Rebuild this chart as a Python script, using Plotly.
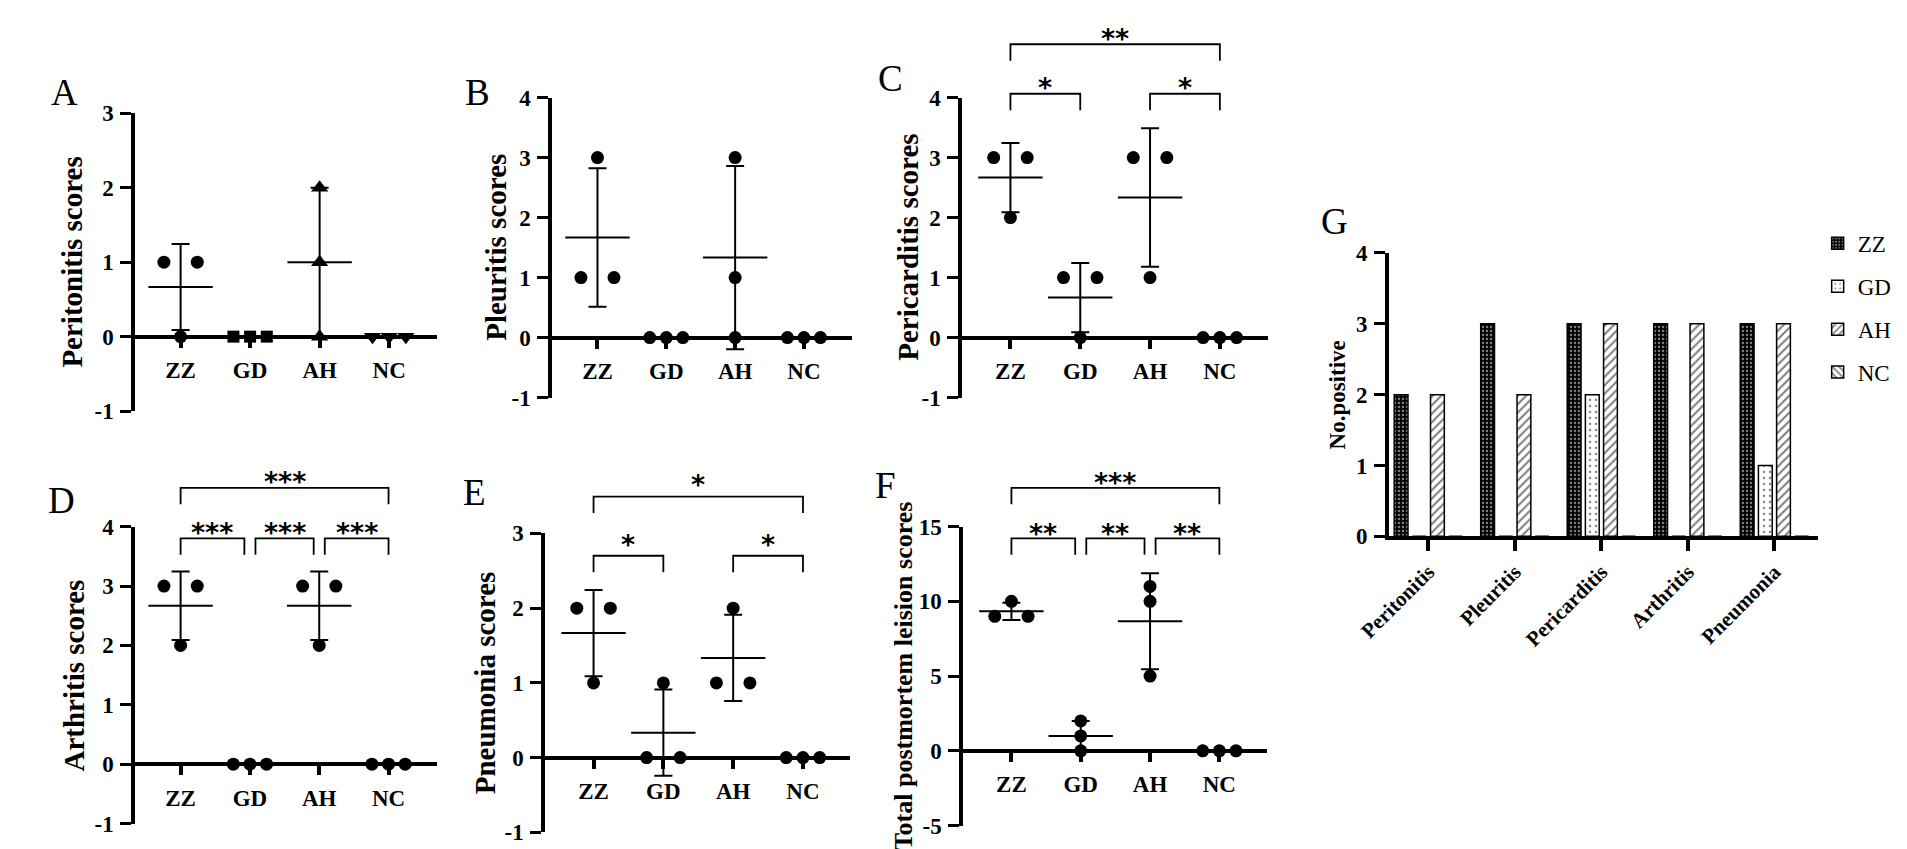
import numpy as np
import plotly.graph_objects as go

# group names and per-animal scores (3 birds per group)
groups = ["ZZ", "GD", "AH", "NC"]
peritonitis_scores = [[1, 1, 0], [0, 0, 0], [2, 1, 0], [0, 0, 0]]
pleuritis_scores = [[3, 1, 1], [0, 0, 0], [3, 1, 0], [0, 0, 0]]
pericarditis_scores = [[3, 3, 2], [1, 1, 0], [3, 3, 1], [0, 0, 0]]
arthritis_scores = [[3, 3, 2], [0, 0, 0], [3, 3, 2], [0, 0, 0]]
pneumonia_scores = [[2, 2, 1], [1, 0, 0], [2, 1, 1], [0, 0, 0]]
total_scores = [[10, 9, 9], [2, 1, 0], [11, 10, 5], [0, 0, 0]]

# significance comparisons (group i, group j, label)
pericarditis_sig = [(0, 1, "*"), (2, 3, "*"), (0, 3, "**")]
arthritis_sig = [(0, 1, "***"), (1, 2, "***"), (2, 3, "***"), (0, 3, "***")]
pneumonia_sig = [(0, 1, "*"), (2, 3, "*"), (0, 3, "*")]
total_sig = [(0, 1, "**"), (1, 2, "**"), (2, 3, "**"), (0, 3, "***")]

# panel G: number of positive birds
lesions = ["Peritonitis", "Pleuritis", "Pericarditis", "Arthritis", "Pneumonia"]
positive_zz = [2, 3, 3, 3, 3]
positive_gd = [0, 0, 2, 0, 1]
positive_ah = [2, 2, 3, 3, 3]
positive_nc = [0, 0, 0, 0, 0]

W, H = 1907, 849
SERIF = "Liberation Serif"


def fx(px):
    return px / W


def fy(py):
    return 1 - py / H


# layout of the scatter panels in pixels:
# (y-axis x, x-axis end, first category x, category step, px of ymin, px of ymax)
panels = [
    dict(letter="A", title="Peritonitis scores", data=peritonitis_scores, sig=[], yr=(-1, 3), dtick=1,
         box=(97, 404, 143, 70.7, 403, 96), lpos=(25, 75), tx=33, tsize=29, levels=None,
         symbols=["circle", "square", "triangle-up", "triangle-down"]),
    dict(letter="B", title="Pleuritis scores", data=pleuritis_scores, sig=[], yr=(-1, 4), dtick=1,
         box=(521, 826, 567, 70.0, 389, 80), lpos=(445, 75), tx=463, tsize=29, levels=None),
    dict(letter="C", title="Pericarditis scores", data=pericarditis_scores, sig=pericarditis_sig, yr=(-1, 4), dtick=1,
         box=(938, 1249, 987, 71.0, 389, 80), lpos=(865, 60), tx=882, tsize=29, levels=(76, 25), star_up=11),
    dict(letter="D", title="Arthritis scores", data=arthritis_scores, sig=arthritis_sig, yr=(-1, 4), dtick=1,
         box=(97, 404, 143, 70.5, 828, 522), lpos=(22, 495), tx=35, tsize=29, levels=(534, 482), star_up=11),
    dict(letter="E", title="Pneumonia scores", data=pneumonia_scores, sig=pneumonia_sig, yr=(-1, 3), dtick=1,
         box=(514, 824, 563, 71.0, 837, 529), lpos=(442, 487), tx=452, tsize=29, levels=(552, 491), star_up=17),
    dict(letter="F", title="Total postmortem leision scores", data=total_scores, sig=total_sig, yr=(-5, 15), dtick=5,
         box=(939, 1248, 988, 70.5, 830, 522), lpos=(860, 480), tx=878, tsize=26, levels=(534, 482), star_up=10),
]
marker_sizes = {"circle": 13, "square": 12, "triangle-up": 15, "triangle-down": 15}

fig = go.Figure()
shapes = []
annotations = []
tick_font = dict(family=SERIF, size=23, color="black", weight="bold")
jit = 0.24  # horizontal spread of tied points


def label(text, px, py, size, bold=False, angle=0):
    annotations.append(dict(text=text, x=fx(px), y=fy(py), xref="paper", yref="paper",
                            xanchor="center", yanchor="middle", showarrow=False, textangle=angle,
                            font=dict(family=SERIF, size=size, color="black",
                                      weight="bold" if bold else "normal")))


for k, p in enumerate(panels):
    n = k + 1
    xa = "x" if n == 1 else f"x{n}"
    ya = "y" if n == 1 else f"y{n}"
    ax_x, ax_end, c0, step, py_min, py_max = p["box"]
    ymin, ymax = p["yr"]
    xr = [(ax_x - c0) / step, (ax_end - c0) / step]
    py0 = py_min + (0 - ymin) / (ymax - ymin) * (py_max - py_min)
    symbols = p.get("symbols", ["circle"] * 4)

    for gi, vals in enumerate(p["data"]):
        vals = np.array(vals, dtype=float)
        xs = np.zeros(len(vals))
        for v in np.unique(vals):
            idx = np.where(vals == v)[0]
            offs = np.linspace(-jit, jit, len(idx)) if len(idx) > 1 else [0.0]
            xs[idx] = gi + np.array(offs)
        fig.add_trace(go.Scatter(
            x=xs, y=vals, mode="markers", xaxis=xa, yaxis=ya, showlegend=False,
            marker=dict(symbol=symbols[gi], size=marker_sizes[symbols[gi]], color="black"), cliponaxis=False))
        mean = vals.mean()
        sd = vals.std(ddof=1)
        fig.add_trace(go.Scatter(
            x=[gi], y=[mean], mode="markers", xaxis=xa, yaxis=ya, showlegend=False,
            marker=dict(symbol="line-ew-open", size=46, color="black", line=dict(color="black", width=2)),
            error_y=dict(type="data", array=[sd], color="black", thickness=2, width=9),
            cliponaxis=False))

    fig.layout[f"xaxis{'' if n == 1 else n}"] = dict(
        domain=[fx(ax_x), fx(ax_end)], range=xr, anchor="free", position=fy(py0),
        showline=True, linewidth=4, linecolor="black", showgrid=False, zeroline=False,
        tickvals=list(range(4)), ticktext=groups, ticks="outside", ticklen=9, tickwidth=3.5,
        tickcolor="black", tickfont=tick_font, ticklabelstandoff=3, fixedrange=True)
    tv = list(range(ymin, ymax + 1, p["dtick"]))
    fig.layout[f"yaxis{'' if n == 1 else n}"] = dict(
        domain=[fy(py_min), fy(py_max)], range=[ymin, ymax], anchor=xa,
        showline=True, linewidth=4, linecolor="black", showgrid=False, zeroline=False,
        tickvals=tv, ticktext=[str(v) for v in tv], ticks="outside", ticklen=11, tickwidth=3,
        tickcolor="black", tickfont=tick_font, ticklabelstandoff=2, fixedrange=True)

    label(p["letter"], p["lpos"][0], p["lpos"][1], 37)
    label(p["title"], p["tx"], (py_min + py_max) / 2, p["tsize"], bold=True, angle=-90)

    # significance brackets
    if p["levels"]:
        low, high = p["levels"]
        ends = [(i, j) for i, j, _ in p["sig"] if j - i < 3]
        for i, j, lab in p["sig"]:
            top = j - i == 3
            line_y = high if top else low
            a, b = float(i), float(j)
            if not top:
                if any(e[1] == i for e in ends):
                    a += 0.08
                if any(e[0] == j for e in ends):
                    b -= 0.08
            shapes.append(dict(type="path", xref=xa, yref="paper",
                               path=f"M{a},{fy(line_y + 17)} L{a},{fy(line_y)} L{b},{fy(line_y)} L{b},{fy(line_y + 17)}",
                               line=dict(color="black", width=1.8)))
            annotations.append(dict(text=lab, x=(a + b) / 2, y=fy(line_y - p["star_up"] + 5), xref=xa, yref="paper",
                                    showarrow=False, xanchor="center", yanchor="middle",
                                    font=dict(family="DejaVu Sans", size=27, color="black", weight="bold")))

# panel G bars
bar_specs = [
    ("ZZ", positive_zz, "black", dict(shape=".", fgcolor="white", bgcolor="black", size=4, solidity=0.3, fillmode="overlay")),
    ("GD", positive_gd, "white", dict(shape=".", fgcolor="black", bgcolor="white", size=6, solidity=0.12, fillmode="overlay")),
    ("AH", positive_ah, "white", dict(shape="/", fgcolor="black", bgcolor="white", size=6, solidity=0.35, fillmode="overlay")),
    ("NC", positive_nc, "white", dict(shape="\\", fgcolor="black", bgcolor="white", size=6, solidity=0.35, fillmode="overlay")),
]
for name, vals, col, pat in bar_specs:
    fig.add_trace(go.Bar(x=lesions, y=vals, name=name, legendgroup=name, xaxis="x7", yaxis="y7",
                         marker=dict(color=col, pattern=pat, line=dict(color="black", width=1.5))))

fig.update_layout(
    xaxis7=dict(domain=[fx(1372), fx(1808)], range=[-0.455, 4.5], anchor="y7",
                showline=True, linewidth=4, linecolor="black", showgrid=False,
                ticks="outside", ticklen=11, tickwidth=3.5, tickcolor="black", tickangle=-45,
                tickfont=dict(family=SERIF, size=21, color="black", weight="bold"), fixedrange=True),
    yaxis7=dict(domain=[fy(532), fy(240)], range=[0, 4], anchor="x7", dtick=1,
                showline=True, linewidth=4, linecolor="black", showgrid=False, zeroline=False,
                ticks="outside", ticklen=11, tickwidth=3, tickcolor="black", tickfont=tick_font,
                ticklabelstandoff=2, fixedrange=True),
)
label("G", 1317, 208, 37)
label("No.positive", 1320, 386, 23, bold=True, angle=-90)

fig.update_layout(
    width=W, height=H, margin=dict(l=0, r=0, t=0, b=0),
    paper_bgcolor="white", plot_bgcolor="white",
    barmode="group", bargap=0.16, bargroupgap=0.24,
    showlegend=True,
    legend=dict(x=fx(1808), y=fy(208), xanchor="left", yanchor="top", tracegroupgap=10,
                font=dict(family=SERIF, size=23, color="black"), bgcolor="rgba(0,0,0,0)"),
    shapes=shapes, annotations=annotations,
)

fig.write_html("out.html")
